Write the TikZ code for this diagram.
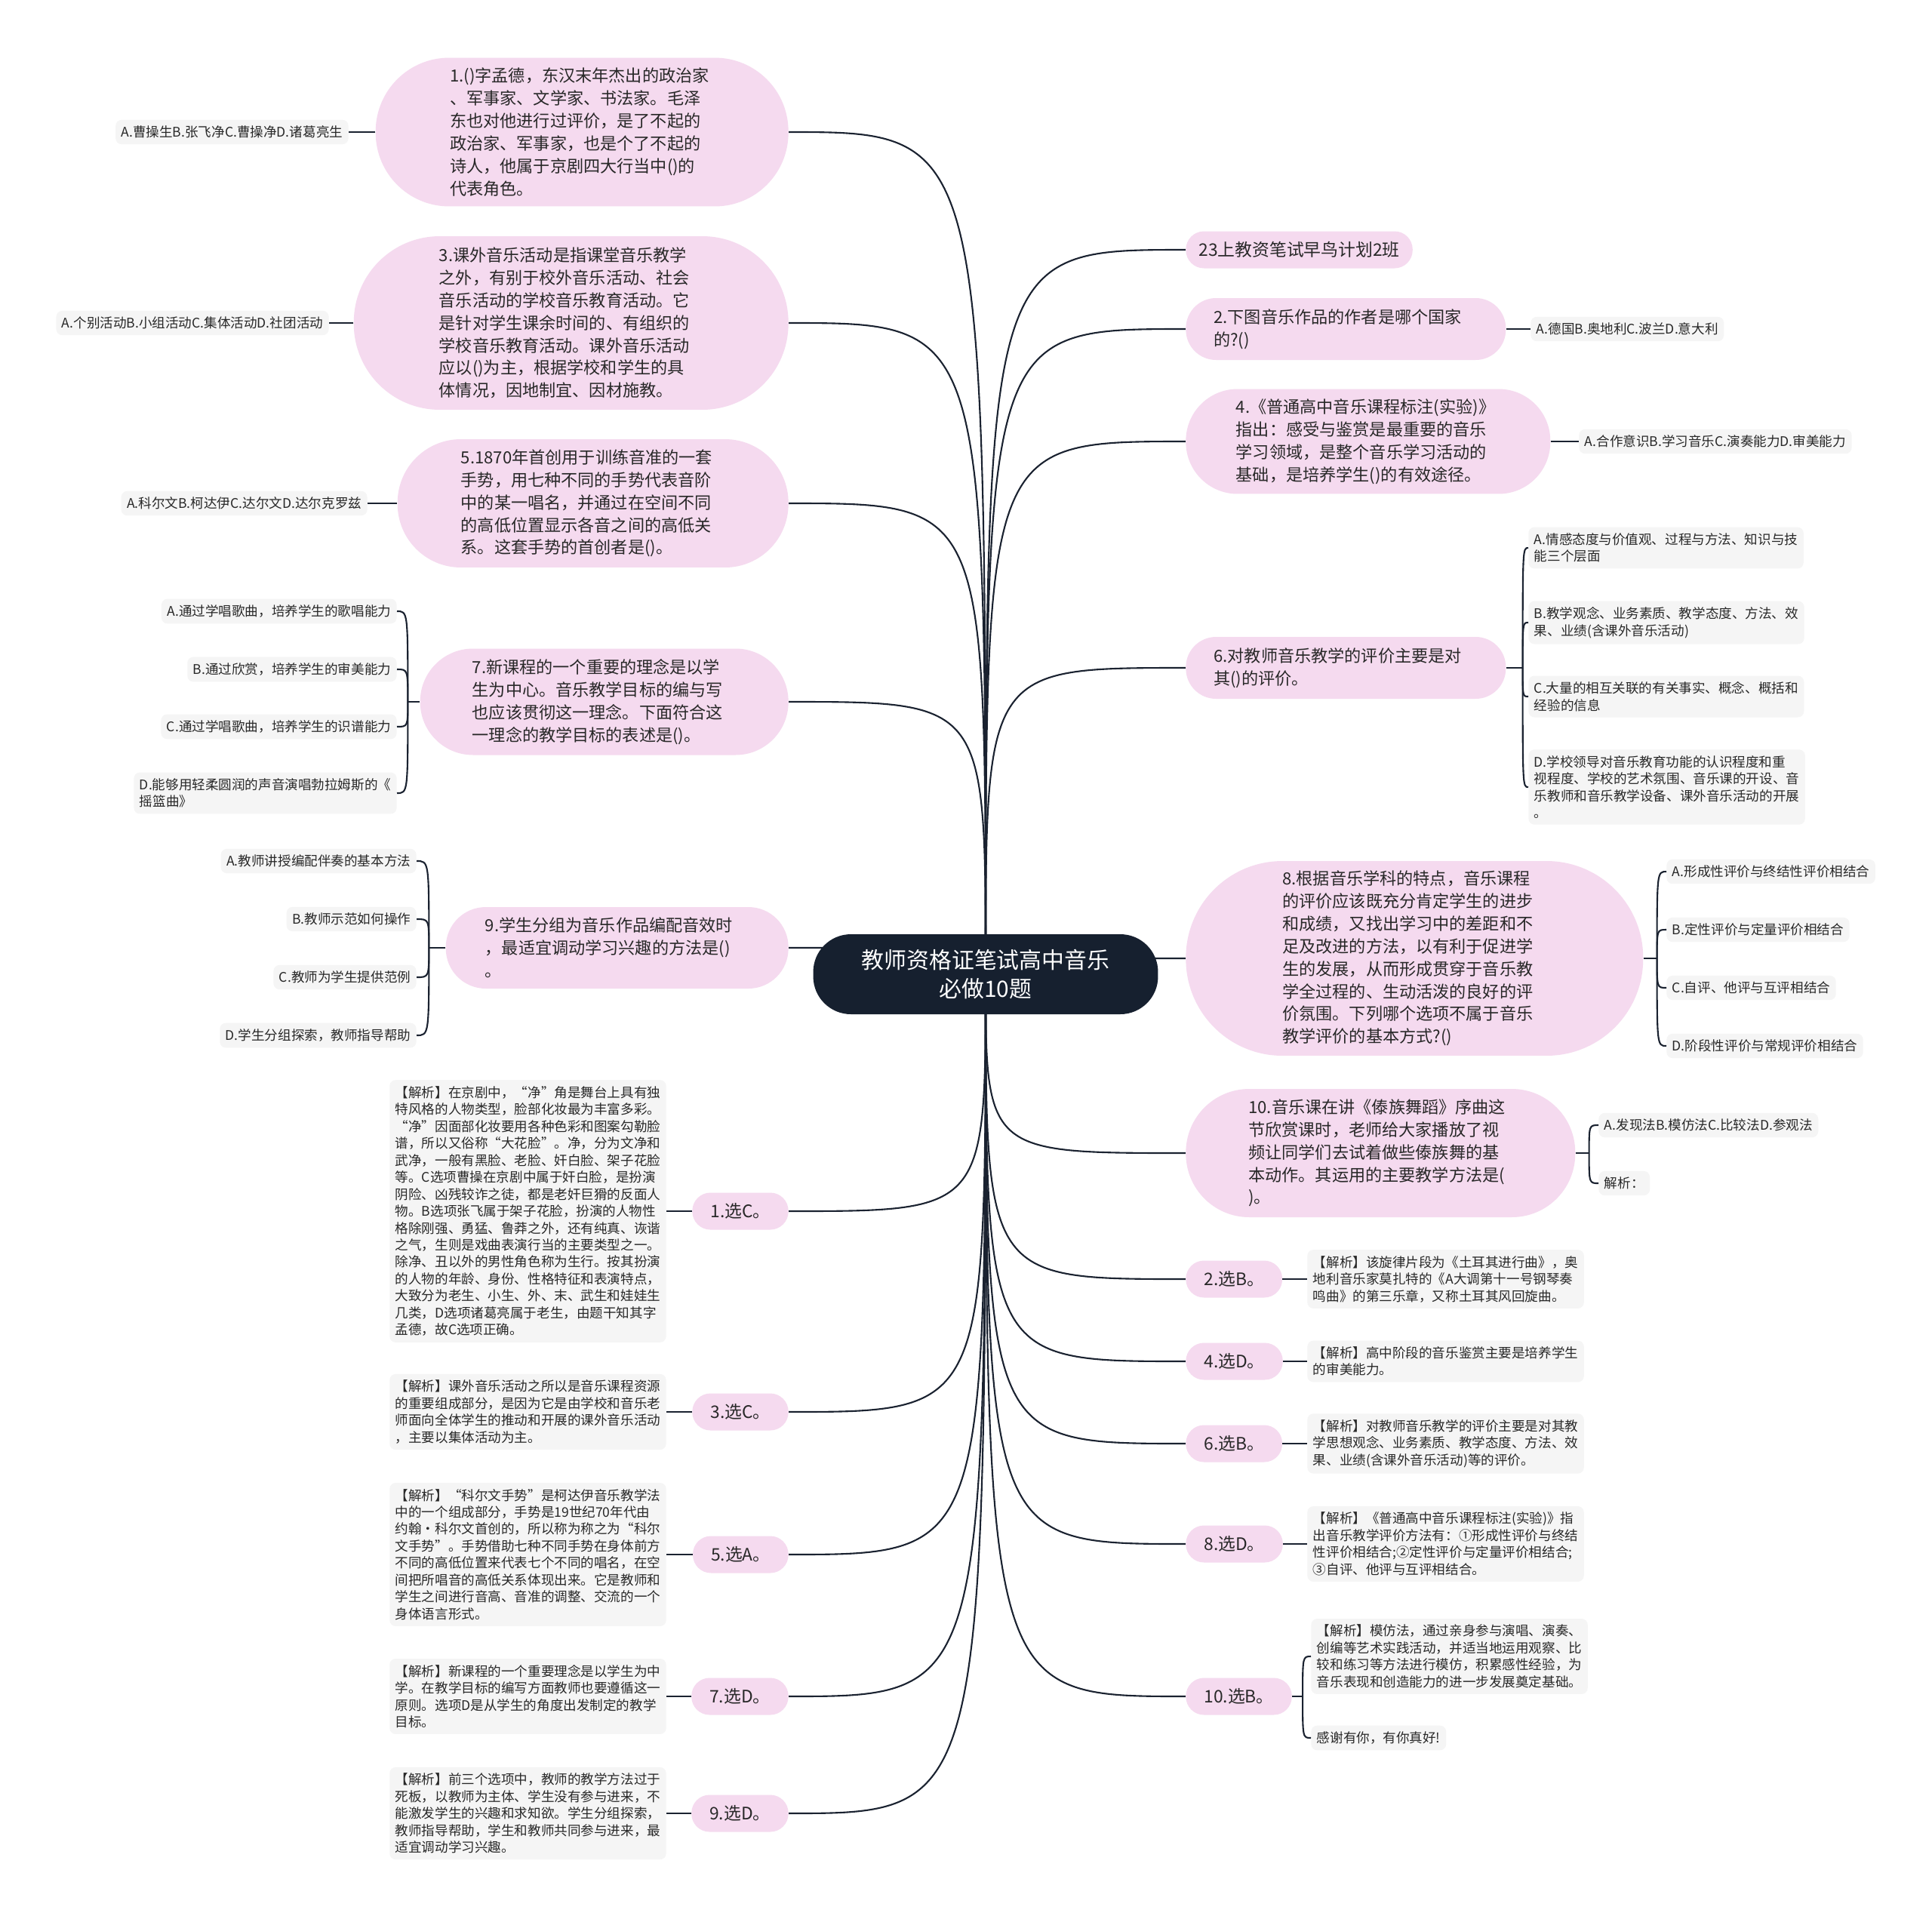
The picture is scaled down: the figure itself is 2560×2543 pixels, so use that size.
\documentclass[tikz,border=0pt]{standalone}
\usepackage{fontspec}
\setmainfont{Noto Sans CJK SC}
\usepackage{tikz}
\usetikzlibrary{positioning,backgrounds}

\definecolor{pinkfill}{RGB}{245,218,239}
\definecolor{greyfill}{RGB}{245,245,245}
\definecolor{navyfill}{RGB}{22,32,47}
\definecolor{linecol}{RGB}{26,34,48}
\definecolor{textcol}{RGB}{40,40,40}

\begin{document}
\begin{tikzpicture}[
			x=0.02cm, y=-0.02cm,
			root/.style={rectangle, rounded corners=1cm, fill=navyfill, text=white, align=center, minimum width=9.14cm, minimum height=2.12cm, font=\fontsize{17}{22}\selectfont},
			question/.style={rectangle, fill=pinkfill, text=textcol, text width=7cm, align=left, inner xsep=0pt, font=\fontsize{12.6}{17}\selectfont},
			pick/.style={rectangle, rounded corners=0.48cm, fill=pinkfill, text=textcol, minimum height=0.98cm, inner xsep=0.48cm, font=\fontsize{13}{17}\selectfont},
			option/.style={rectangle, rounded corners=0.16cm, fill=greyfill, text=textcol, align=left, inner xsep=0.15cm, inner ysep=0.16cm, font=\fontsize{10}{12.8}\selectfont},
			conn/.style={draw=linecol, line width=1.2pt},
			]
			\useasboundingbox (0,0) rectangle (2560,2543);
			%Nodes
				\node[root]		(root)		at (1306,1291)	{教师资格证笔试高中音乐\\必做10题};

				% left questions
				\node[question, anchor=east, minimum width=10.94cm, minimum height=3.94cm, rounded corners=1.95cm]	(q-1)	at (1045,175)	{1.()字孟德，东汉末年杰出的政治家\\、军事家、文学家、书法家。毛泽\\东也对他进行过评价，是了不起的\\政治家、军事家，也是个了不起的\\诗人，他属于京剧四大行当中()的\\代表角色。};
				\node[question, anchor=east, minimum width=11.52cm, minimum height=4.6cm, rounded corners=2.28cm]	(q-3)	at (1045,428)	{3.课外音乐活动是指课堂音乐教学\\之外，有别于校外音乐活动、社会\\音乐活动的学校音乐教育活动。它\\是针对学生课余时间的、有组织的\\学校音乐教育活动。课外音乐活动\\应以()为主，根据学校和学生的具\\体情况，因地制宜、因材施教。};
				\node[question, anchor=east, minimum width=10.36cm, minimum height=3.4cm, rounded corners=1.68cm]	(q-5)	at (1045,667)	{5.1870年首创用于训练音准的一套\\手势，用七种不同的手势代表音阶\\中的某一唱名，并通过在空间不同\\的高低位置显示各音之间的高低关\\系。这套手势的首创者是()。};
				\node[question, anchor=east, minimum width=9.76cm, minimum height=2.82cm, rounded corners=1.4cm]	(q-7)	at (1045,930)	{7.新课程的一个重要的理念是以学\\生为中心。音乐教学目标的编与写\\也应该贯彻这一理念。下面符合这\\一理念的教学目标的表述是()。};
				\node[question, anchor=east, minimum width=9.08cm, minimum height=2.16cm, rounded corners=1.06cm]	(q-9)	at (1045,1256)	{9.学生分组为音乐作品编配音效时\\，最适宜调动学习兴趣的方法是()\\。};

				\node[option, anchor=east]	(ans-1)		at (462,175)	{A.曹操生B.张飞净C.曹操净D.诸葛亮生};
				\node[option, anchor=east]	(ans-3)		at (436,428)	{A.个别活动B.小组活动C.集体活动D.社团活动};
				\node[option, anchor=east]	(ans-5)		at (487,667)	{A.科尔文B.柯达伊C.达尔文D.达尔克罗兹};
				\node[option, anchor=east]	(opt-7-a)	at (526,810)	{A.通过学唱歌曲，培养学生的歌唱能力};
				\node[option, anchor=east]	(opt-7-b)	at (526,887)	{B.通过欣赏，培养学生的审美能力};
				\node[option, anchor=east]	(opt-7-c)	at (526,963)	{C.通过学唱歌曲，培养学生的识谱能力};
				\node[option, anchor=east]	(opt-7-d)	at (526,1051)	{D.能够用轻柔圆润的声音演唱勃拉姆斯的《\\摇篮曲》};
				\node[option, anchor=east]	(opt-9-a)	at (552,1141)	{A.教师讲授编配伴奏的基本方法};
				\node[option, anchor=east]	(opt-9-b)	at (552,1218)	{B.教师示范如何操作};
				\node[option, anchor=east]	(opt-9-c)	at (552,1295)	{C.教师为学生提供范例};
				\node[option, anchor=east]	(opt-9-d)	at (552,1372)	{D.学生分组探索，教师指导帮助};

				% left answers
				\node[pick, anchor=east]	(pick-1)	at (1045,1605)	{1.选C。};
				\node[pick, anchor=east]	(pick-3)	at (1045,1871)	{3.选C。};
				\node[pick, anchor=east]	(pick-5)	at (1045,2060)	{5.选A。};
				\node[pick, anchor=east]	(pick-7)	at (1045,2248)	{7.选D。};
				\node[pick, anchor=east]	(pick-9)	at (1045,2403)	{9.选D。};

				\node[option, anchor=east]	(expl-1)	at (883,1605)	{【解析】在京剧中，“净”角是舞台上具有独\\特风格的人物类型，脸部化妆最为丰富多彩。\\“净”因面部化妆要用各种色彩和图案勾勒脸\\谱，所以又俗称“大花脸”。净，分为文净和\\武净，一般有黑脸、老脸、奸白脸、架子花脸\\等。C选项曹操在京剧中属于奸白脸，是扮演\\阴险、凶残较诈之徒，都是老奸巨猾的反面人\\物。B选项张飞属于架子花脸，扮演的人物性\\格除刚强、勇猛、鲁莽之外，还有纯真、诙谐\\之气，生则是戏曲表演行当的主要类型之一。\\除净、丑以外的男性角色称为生行。按其扮演\\的人物的年龄、身份、性格特征和表演特点，\\大致分为老生、小生、外、末、武生和娃娃生\\几类，D选项诸葛亮属于老生，由题干知其字\\孟德，故C选项正确。};
				\node[option, anchor=east]	(expl-3)	at (883,1871)	{【解析】课外音乐活动之所以是音乐课程资源\\的重要组成部分，是因为它是由学校和音乐老\\师面向全体学生的推动和开展的课外音乐活动\\，主要以集体活动为主。};
				\node[option, anchor=east]	(expl-5)	at (883,2060)	{【解析】“科尔文手势”是柯达伊音乐教学法\\中的一个组成部分，手势是19世纪70年代由\\约翰·科尔文首创的，所以称为称之为“科尔\\文手势”。手势借助七种不同手势在身体前方\\不同的高低位置来代表七个不同的唱名，在空\\间把所唱音的高低关系体现出来。它是教师和\\学生之间进行音高、音准的调整、交流的一个\\身体语言形式。};
				\node[option, anchor=east]	(expl-7)	at (883,2248)	{【解析】新课程的一个重要理念是以学生为中\\学。在教学目标的编写方面教师也要遵循这一\\原则。选项D是从学生的角度出发制定的教学\\目标。};
				\node[option, anchor=east]	(expl-9)	at (883,2403)	{【解析】前三个选项中，教师的教学方法过于\\死板，以教师为主体、学生没有参与进来，不\\能激发学生的兴趣和求知欲。学生分组探索，\\教师指导帮助，学生和教师共同参与进来，最\\适宜调动学习兴趣。};

				% right questions
				\node[pick, anchor=west, inner xsep=0.34cm]	(tip)	at (1571,331)	{23上教资笔试早鸟计划2班};
				\node[question, anchor=west, minimum width=8.48cm, minimum height=1.64cm, rounded corners=0.8cm]	(q-2)	at (1571,436)	{2.下图音乐作品的作者是哪个国家\\的?()};
				\node[question, anchor=west, minimum width=9.66cm, minimum height=2.78cm, rounded corners=1.37cm]	(q-4)	at (1571,585)	{4.《普通高中音乐课程标注(实验)》\\指出：感受与鉴赏是最重要的音乐\\学习领域，是整个音乐学习活动的\\基础，是培养学生()的有效途径。};
				\node[question, anchor=west, minimum width=8.48cm, minimum height=1.64cm, rounded corners=0.8cm]	(q-6)	at (1571,885)	{6.对教师音乐教学的评价主要是对\\其()的评价。};
				\node[question, anchor=west, minimum width=12.12cm, minimum height=5.16cm, rounded corners=2.56cm]	(q-8)	at (1571,1270)	{8.根据音乐学科的特点，音乐课程\\的评价应该既充分肯定学生的进步\\和成绩，又找出学习中的差距和不\\足及改进的方法，以有利于促进学\\生的发展，从而形成贯穿于音乐教\\学全过程的、生动活泼的良好的评\\价氛围。下列哪个选项不属于音乐\\教学评价的基本方式?()};
				\node[question, anchor=west, minimum width=10.32cm, minimum height=3.4cm, rounded corners=1.68cm]	(q-10)	at (1571,1528)	{10.音乐课在讲《傣族舞蹈》序曲这\\节欣赏课时，老师给大家播放了视\\频让同学们去试着做些傣族舞的基\\本动作。其运用的主要教学方法是(\\)。};

				\node[option, anchor=west]	(ans-2)		at (2028,436)	{A.德国B.奥地利C.波兰D.意大利};
				\node[option, anchor=west]	(ans-4)		at (2092,585)	{A.合作意识B.学习音乐C.演奏能力D.审美能力};
				\node[option, anchor=west]	(opt-6-a)	at (2025,726)	{A.情感态度与价值观、过程与方法、知识与技\\能三个层面};
				\node[option, anchor=west]	(opt-6-b)	at (2025,825)	{B.教学观念、业务素质、教学态度、方法、效\\果、业绩(含课外音乐活动)};
				\node[option, anchor=west]	(opt-6-c)	at (2025,923)	{C.大量的相互关联的有关事实、概念、概括和\\经验的信息};
				\node[option, anchor=west]	(opt-6-d)	at (2025,1043)	{D.学校领导对音乐教育功能的认识程度和重\\视程度、学校的艺术氛围、音乐课的开设、音\\乐教师和音乐教学设备、课外音乐活动的开展\\。};
				\node[option, anchor=west]	(opt-8-a)	at (2208,1155)	{A.形成性评价与终结性评价相结合};
				\node[option, anchor=west]	(opt-8-b)	at (2208,1232)	{B.定性评价与定量评价相结合};
				\node[option, anchor=west]	(opt-8-c)	at (2208,1309)	{C.自评、他评与互评相结合};
				\node[option, anchor=west]	(opt-8-d)	at (2208,1386)	{D.阶段性评价与常规评价相结合};
				\node[option, anchor=west]	(opt-10-a)	at (2118,1491)	{A.发现法B.模仿法C.比较法D.参观法};
				\node[option, anchor=west]	(opt-10-b)	at (2118,1568)	{解析：};

				% right answers
				\node[pick, anchor=west]	(pick-2)	at (1571,1695)	{2.选B。};
				\node[pick, anchor=west]	(pick-4)	at (1571,1804)	{4.选D。};
				\node[pick, anchor=west]	(pick-6)	at (1571,1913)	{6.选B。};
				\node[pick, anchor=west]	(pick-8)	at (1571,2046)	{8.选D。};
				\node[pick, anchor=west]	(pick-10)	at (1571,2248)	{10.选B。};

				\node[option, anchor=west]	(expl-2)	at (1732,1695)	{【解析】该旋律片段为《土耳其进行曲》，奥\\地利音乐家莫扎特的《A大调第十一号钢琴奏\\鸣曲》的第三乐章，又称土耳其风回旋曲。};
				\node[option, anchor=west]	(expl-4)	at (1732,1804)	{【解析】高中阶段的音乐鉴赏主要是培养学生\\的审美能力。};
				\node[option, anchor=west]	(expl-6)	at (1732,1913)	{【解析】对教师音乐教学的评价主要是对其教\\学思想观念、业务素质、教学态度、方法、效\\果、业绩(含课外音乐活动)等的评价。};
				\node[option, anchor=west]	(expl-8)	at (1732,2046)	{【解析】《普通高中音乐课程标注(实验)》指\\出音乐教学评价方法有：①形成性评价与终结\\性评价相结合;②定性评价与定量评价相结合;\\③自评、他评与互评相结合。};
				\node[option, anchor=west]	(expl-10-a)	at (1737,2195)	{【解析】模仿法，通过亲身参与演唱、演奏、\\创编等艺术实践活动，并适当地运用观察、比\\较和练习等方法进行模仿，积累感性经验，为\\音乐表现和创造能力的进一步发展奠定基础。};
				\node[option, anchor=west]	(expl-10-b)	at (1737,2303)	{感谢有你，有你真好!};

			%Lines
			\begin{scope}[on background layer]
				\fill[white] (0,0) rectangle (2560,2543);
				\foreach \nd in {q-1,q-3,q-5,q-7,q-9,pick-1,pick-3,pick-5,pick-7,pick-9}
					\draw[conn] (root.center) .. controls (root.center |- \nd.east) .. (\nd.east);
				\foreach \nd in {tip,q-2,q-4,q-6,q-8,q-10,pick-2,pick-4,pick-6,pick-8,pick-10}
					\draw[conn] (root.center) .. controls (root.center |- \nd.west) .. (\nd.west);
			\end{scope}

				\draw[conn] (q-1.west) -- (ans-1.east);
				\draw[conn] (q-3.west) -- (ans-3.east);
				\draw[conn] (q-5.west) -- (ans-5.east);
				\draw[conn] (q-2.east) -- (ans-2.west);
				\draw[conn] (q-4.east) -- (ans-4.west);
				\foreach \k in {1,3,5,7,9}
					\draw[conn] (pick-\k.west) -- (expl-\k.east);
				\foreach \k in {2,4,6,8}
					\draw[conn] (pick-\k.east) -- (expl-\k.west);

				\draw[conn] (q-7.west) -- ++(-16,0) coordinate (fork-7);
				\draw[conn] (q-9.west) -- ++(-22,0) coordinate (fork-9);
				\foreach \m in {a,b,c,d} {
					\draw[conn] (fork-7) .. controls (fork-7 |- opt-7-\m.east) .. (opt-7-\m.east);
					\draw[conn] (fork-9) .. controls (fork-9 |- opt-9-\m.east) .. (opt-9-\m.east);
				}
				\draw[conn] (q-6.east) -- ++(22,0) coordinate (fork-6);
				\draw[conn] (q-8.east) -- ++(18,0) coordinate (fork-8);
				\foreach \m in {a,b,c,d} {
					\draw[conn] (fork-6) .. controls (fork-6 |- opt-6-\m.west) .. (opt-6-\m.west);
					\draw[conn] (fork-8) .. controls (fork-8 |- opt-8-\m.west) .. (opt-8-\m.west);
				}
				\draw[conn] (q-10.east) -- ++(18,0) coordinate (fork-10);
				\draw[conn] (pick-10.east) -- ++(14,0) coordinate (fork-p10);
				\foreach \m in {a,b} {
					\draw[conn] (fork-10) .. controls (fork-10 |- opt-10-\m.west) .. (opt-10-\m.west);
					\draw[conn] (fork-p10) .. controls (fork-p10 |- expl-10-\m.west) .. (expl-10-\m.west);
				}
		\end{tikzpicture}
\end{document}
